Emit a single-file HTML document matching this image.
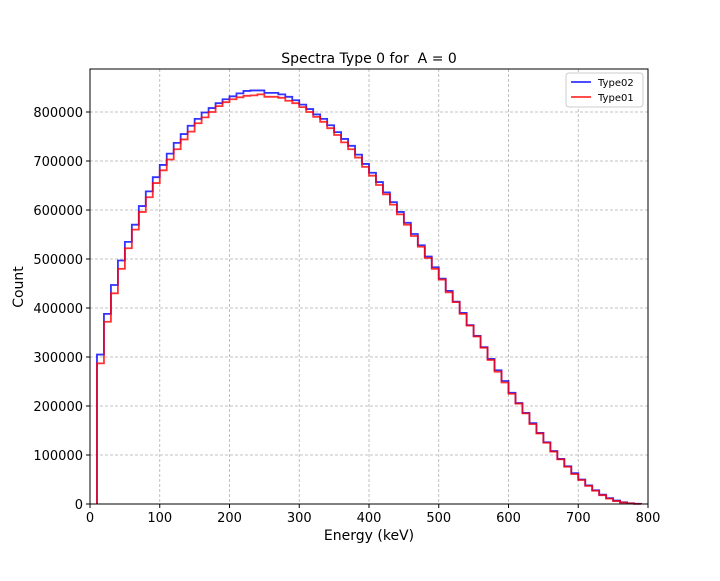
<!DOCTYPE html>
<html><head><meta charset="utf-8"><style>
body{margin:0;background:#fff;font-family:"Liberation Sans","DejaVu Sans",sans-serif}
svg text{font-family:"DejaVu Sans","Liberation Sans",sans-serif}
</style></head><body>
<svg id="chart" width="720" height="576" xmlns="http://www.w3.org/2000/svg">
<rect width="720" height="576" fill="#fff"/>
<text x="369" y="63" text-anchor="middle" font-size="14">Spectra Type 0 for &#160;A = 0</text>
<g id="grid"></g>
<g id="series"></g>
<g id="axes"></g>
<text x="369" y="540" text-anchor="middle" font-size="14">Energy (keV)</text>
<text transform="translate(23,287) rotate(-90)" text-anchor="middle" font-size="14">Count</text>
<g>
<rect x="566" y="73" width="77" height="34" rx="3" fill="#fff" stroke="#ccc"/>
<line x1="571" y1="82" x2="591" y2="82" stroke="#0000ff" stroke-width="1.8" opacity="0.8"/>
<text x="598" y="86" font-size="10">Type02</text>
<line x1="571" y1="97" x2="591" y2="97" stroke="#ff0000" stroke-width="1.8" opacity="0.8"/>
<text x="598" y="101" font-size="10">Type01</text>
</g>
</svg>
<script>
const binStarts=[10,20,30,40,50,60,70,80,90,100,110,120,130,140,150,160,170,180,190,200,210,220,230,240,250,260,270,280,290,300,310,320,330,340,350,360,370,380,390,400,410,420,430,440,450,460,470,480,490,500,510,520,530,540,550,560,570,580,590,600,610,620,630,640,650,660,670,680,690,700,710,720,730,740,750,760,770,780];
const type02=[305000,388000,447000,497000,535000,570000,608000,638000,667000,692000,715000,737000,755000,772000,786000,799000,808000,818000,826000,832000,838000,843000,844000,844000,839000,839000,836000,831000,824000,815000,806000,795000,786000,773000,759000,745000,731000,713000,694000,676000,657000,636000,616000,596000,574000,551000,528000,505000,483000,460000,435000,413000,390000,365000,343000,320000,296000,273000,251000,227000,206000,186000,165000,145000,126000,108000,92000,77000,63000,50000,38000,28000,19000,12000,7000,3500,1500,500];
const type01=[287000,372000,430000,480000,522000,560000,596000,626000,655000,681000,703000,724000,744000,760000,777000,789000,800000,812000,820000,826000,830000,833000,834000,836000,831000,831000,829000,823000,818000,810000,800000,790000,780000,767000,753000,738000,724000,707000,688000,670000,651000,632000,611000,591000,570000,547000,525000,502000,480000,458000,432000,412000,388000,364000,342000,319000,294000,270000,248000,225000,205000,185000,163000,144000,125000,107000,91000,76000,61000,49000,37000,27000,18000,11000,6000,3000,1200,300];
const xTicks=[0,100,200,300,400,500,600,700,800];
const yTicks=[0,100000,200000,300000,400000,500000,600000,700000,800000];
const binWidth=10;
const X0=90,X1=648,Y0=504,YT=69;
const xs=v=>X0+(v/800)*(X1-X0);
const ys=v=>Y0-(v/800000)*392;
const NS="http://www.w3.org/2000/svg";
function mk(tag,attrs,parent){const e=document.createElementNS(NS,tag);for(const k in attrs)e.setAttribute(k,attrs[k]);parent.appendChild(e);return e;}
const grid=document.getElementById('grid'),axes=document.getElementById('axes'),ser=document.getElementById('series');
xTicks.forEach(t=>{
 const g=mk('line',{x1:xs(t),x2:xs(t),y1:YT,y2:Y0,stroke:'#b0b0b0','stroke-dasharray':'3,2','stroke-width':0.8},grid);
 
 
 const tk=mk('line',{x1:xs(t),x2:xs(t),y1:Y0,y2:Y0+4,stroke:'#000'},axes);
 
 
 const tx=mk('text',{x:xs(t),y:Y0+18,'text-anchor':'middle','font-size':13},axes);
 tx.textContent=t;
 
 
});
yTicks.forEach(t=>{
 const g=mk('line',{x1:X0,x2:X1,y1:ys(t),y2:ys(t),stroke:'#b0b0b0','stroke-dasharray':'3,2','stroke-width':0.8},grid);
 
 
 const tk=mk('line',{x1:X0-4,x2:X0,y1:ys(t),y2:ys(t),stroke:'#000'},axes);
 
 
 const tx=mk('text',{x:X0-7,y:ys(t)+5,'text-anchor':'end','font-size':13},axes);
 tx.textContent=t;
 
 
});
const frame=mk('rect',{x:X0,y:YT,width:X1-X0,height:Y0-YT,fill:'none',stroke:'#000','stroke-width':1},axes);


function stepPath(vals){
 let d='M'+xs(binStarts[0])+','+ys(0);
 vals.forEach((v,i)=>{d+=' L'+xs(binStarts[i])+','+ys(v)+' L'+xs(binStarts[i]+binWidth)+','+ys(v);});
 d+=' L'+xs(binStarts[binStarts.length-1]+binWidth)+','+ys(0);
 return d;
}
const p2=mk('path',{d:stepPath(type02),fill:'none',stroke:'#0000ff','stroke-width':1.8,opacity:0.8},ser);


const p1=mk('path',{d:stepPath(type01),fill:'none',stroke:'#ff0000','stroke-width':1.8,opacity:0.8},ser);


</script>
</body></html>
